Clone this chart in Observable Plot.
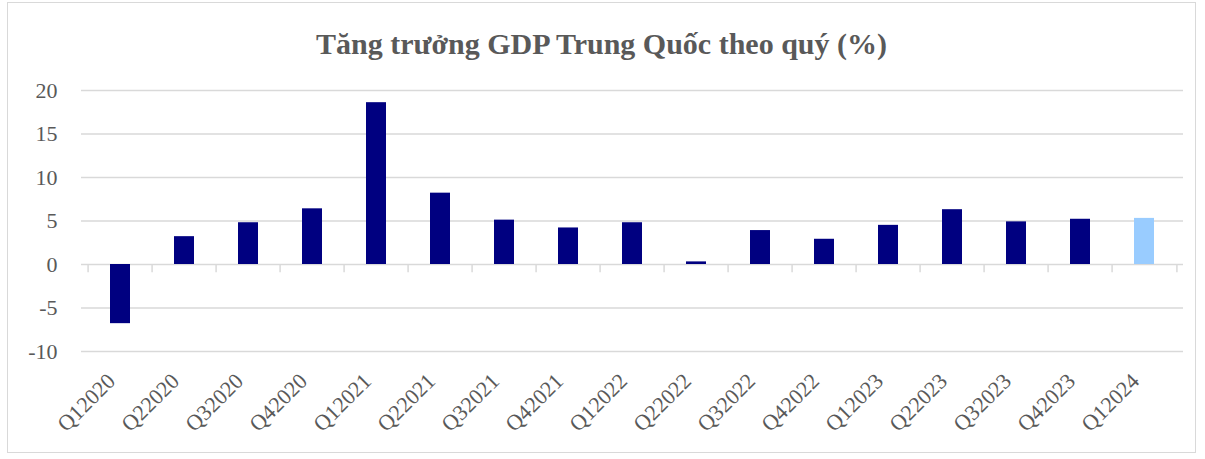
<!DOCTYPE html>
<html>
<head>
<meta charset="utf-8">
<script src="https://cdn.jsdelivr.net/npm/d3@7"></script>
<script src="https://cdn.jsdelivr.net/npm/@observablehq/plot@0.6"></script>
<style>
  html, body { margin: 0; padding: 0; background: #fff; }
  #chart {
    position: absolute; left: 7px; top: 2px;
    width: 1189px; height: 451px;
    border: 1px solid #d9d9d9; box-sizing: border-box;
    background: #fff;
  }
  #title {
    position: absolute; left: 0; right: 0; top: 24px;
    text-align: center;
    font-family: "Liberation Serif", serif; font-weight: bold;
    font-size: 30px; line-height: 34px; color: #595959;
  }
  #plot { position: absolute; left: 0; top: 67px; }
</style>
</head>
<body>
<div id="chart">
  <div id="title">Tăng trưởng GDP Trung Quốc theo quý (%)</div>
  <div id="plot"></div>
</div>
<script>
// Quarterly GDP growth of China, % year on year
const quarters = ["Q12020", "Q22020", "Q32020", "Q42020", "Q12021", "Q22021", "Q32021", "Q42021",
  "Q12022", "Q22022", "Q32022", "Q42022", "Q12023", "Q22023", "Q32023", "Q42023", "Q12024"];
const growth = [-6.8, 3.2, 4.8, 6.4, 18.6, 8.2, 5.1, 4.2, 4.8, 0.3, 3.9, 2.9, 4.5, 6.3, 4.9, 5.2, 5.3];
const yTicks = [-10, -5, 0, 5, 10, 15, 20];
const latestQuarter = "Q12024";

const data = quarters.map((quarter, i) => ({quarter, growth: growth[i]}));

const W = 1187, H = 380;
const mL = 73, mR = 12, mT = 20, mB = 99;
const step = (W - mL - mR) / quarters.length;
const gray = "#595959";

const chart = Plot.plot({
  width: W, height: H,
  marginLeft: mL, marginRight: mR, marginTop: mT, marginBottom: mB,
  style: {fontFamily: "'Liberation Serif', serif", fontSize: "22px", color: gray, background: "transparent"},
  x: {domain: quarters, paddingInner: 0.69, paddingOuter: 0.345, label: null},
  y: {domain: [-10, 20], label: null},
  marks: [
    Plot.ruleY(yTicks, {stroke: "#d9d9d9", strokeWidth: 1.5}),
    // category separators hanging below the zero line
    Plot.ruleX(quarters, {x: d => d, y1: 0, y2: -0.95, dx: -step / 2, stroke: "#d9d9d9", strokeWidth: 1.5}),
    Plot.ruleX([quarters[quarters.length - 1]], {x: d => d, y1: 0, y2: -0.95, dx: step / 2, stroke: "#d9d9d9", strokeWidth: 1.5}),
    Plot.barY(data, {
      x: "quarter", y: "growth",
      fill: d => d.quarter === latestQuarter ? "#99ccff" : "#000080"
    }),
    Plot.axisY({ticks: yTicks, tickFormat: d => String(d), tickSize: 0, tickPadding: 24, fontSize: 22, fill: gray}),
    Plot.axisX({tickSize: 0, tickRotate: -45, textAnchor: "end", lineAnchor: "bottom",
      tickPadding: 31, dx: -4, fontSize: 22, fill: gray})
  ]
});
document.getElementById("plot").appendChild(chart);
</script>
</body>
</html>
